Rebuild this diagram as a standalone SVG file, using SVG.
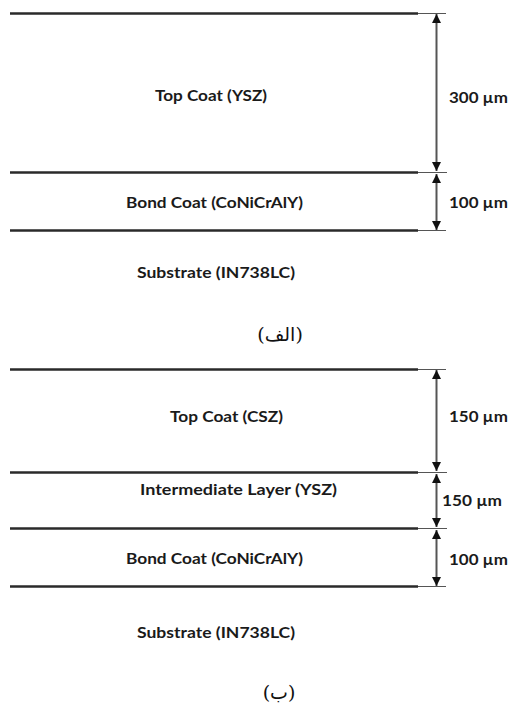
<svg xmlns="http://www.w3.org/2000/svg" width="511" height="707" viewBox="0 0 511 707">
<style>
.thick{stroke:#2a2a2a;stroke-width:2.6;fill:none}
.thin{stroke:#555;stroke-width:1;fill:none}
.dim{stroke:#555;stroke-width:2;fill:none}
.lbl{font-family:Lato,"Open Sans",sans-serif;font-weight:bold;font-size:15.5px;fill:#1a1a1a}
.ar{font-family:"DejaVu Serif","DejaVu Sans",serif;font-size:19px;fill:#111}
</style>
<defs>
<marker id="ah" viewBox="0 0 10 10" refX="10" refY="5" markerWidth="9" markerHeight="9" markerUnits="userSpaceOnUse" orient="auto-start-reverse">
<path d="M0,0 L10,5 L0,10 Z" fill="#111"/>
</marker>
</defs>
<g id="layer-lines-a">
<line class="thick" x1="10" y1="13.5" x2="418" y2="13.5"/>
<line class="thin" x1="418" y1="13.5" x2="446" y2="13.5"/>
<line class="thick" x1="10" y1="172.5" x2="418" y2="172.5"/>
<line class="thin" x1="418" y1="172.5" x2="447" y2="172.5"/>
<line class="thick" x1="10" y1="230.5" x2="418" y2="230.5"/>
<line class="thin" x1="418" y1="230.5" x2="446" y2="230.5"/>
</g>
<g id="layer-lines-b">
<line class="thick" x1="10" y1="369.5" x2="418" y2="369.5"/>
<line class="thin" x1="418" y1="369.5" x2="446" y2="369.5"/>
<line class="thick" x1="10" y1="472.5" x2="418" y2="472.5"/>
<line class="thin" x1="418" y1="472.5" x2="447" y2="472.5"/>
<line class="thick" x1="10" y1="528.5" x2="418" y2="528.5"/>
<line class="thin" x1="418" y1="528.5" x2="447" y2="528.5"/>
<line class="thick" x1="10" y1="586.5" x2="418" y2="586.5"/>
<line class="thin" x1="418" y1="586.5" x2="446" y2="586.5"/>
</g>
<g id="connectors">
<line class="dim" x1="436.5" y1="14" x2="436.5" y2="171" marker-start="url(#ah)" marker-end="url(#ah)"/>
<line class="dim" x1="436.5" y1="174" x2="436.5" y2="230" marker-start="url(#ah)" marker-end="url(#ah)"/>
<line class="dim" x1="436.5" y1="370" x2="436.5" y2="471" marker-start="url(#ah)" marker-end="url(#ah)"/>
<line class="dim" x1="436.5" y1="474" x2="436.5" y2="527" marker-start="url(#ah)" marker-end="url(#ah)"/>
<line class="dim" x1="436.5" y1="530" x2="436.5" y2="586" marker-start="url(#ah)" marker-end="url(#ah)"/>
</g>
<g id="topcoat-ysz"><text class="lbl" x="155" y="101" textLength="112" lengthAdjust="spacingAndGlyphs">Top Coat (YSZ)</text></g>
<g id="bondcoat-a"><text class="lbl" x="126" y="208" textLength="177" lengthAdjust="spacingAndGlyphs">Bond Coat (CoNiCrAlY)</text></g>
<g id="substrate-a"><text class="lbl" x="137" y="278" textLength="158" lengthAdjust="spacingAndGlyphs">Substrate (IN738LC)</text></g>
<g id="dim-300"><text class="lbl" x="449" y="103" textLength="59" lengthAdjust="spacingAndGlyphs">300 µm</text></g>
<g id="dim-100a"><text class="lbl" x="449" y="208" textLength="59" lengthAdjust="spacingAndGlyphs">100 µm</text></g>
<g id="caption-a"><text class="ar" x="280" y="341" text-anchor="middle">(الف)</text></g>
<g id="topcoat-csz"><text class="lbl" x="170" y="422" textLength="113" lengthAdjust="spacingAndGlyphs">Top Coat (CSZ)</text></g>
<g id="intermediate"><text class="lbl" x="140" y="495" textLength="197" lengthAdjust="spacingAndGlyphs">Intermediate Layer (YSZ)</text></g>
<g id="bondcoat-b"><text class="lbl" x="126" y="564" textLength="177" lengthAdjust="spacingAndGlyphs">Bond Coat (CoNiCrAlY)</text></g>
<g id="substrate-b"><text class="lbl" x="137" y="638" textLength="158" lengthAdjust="spacingAndGlyphs">Substrate (IN738LC)</text></g>
<g id="dim-150a"><text class="lbl" x="449" y="422" textLength="59" lengthAdjust="spacingAndGlyphs">150 µm</text></g>
<g id="dim-150b"><text class="lbl" x="442" y="506" textLength="60" lengthAdjust="spacingAndGlyphs">150 µm</text></g>
<g id="dim-100b"><text class="lbl" x="449" y="565" textLength="59" lengthAdjust="spacingAndGlyphs">100 µm</text></g>
<g id="caption-b"><text class="ar" x="279" y="699" text-anchor="middle">(ب)</text></g>
</svg>
